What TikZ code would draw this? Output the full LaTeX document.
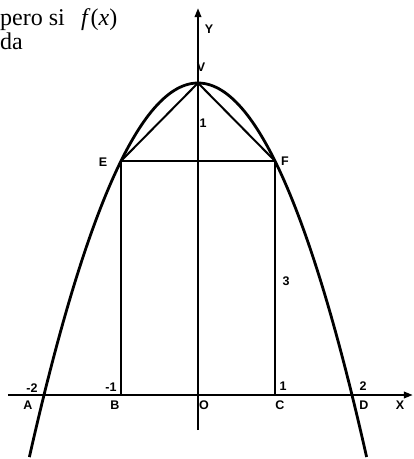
\documentclass[tikz,border=0pt]{standalone}
\usepackage{fontspec}
\setmainfont{Liberation Serif}
\setsansfont{Liberation Sans}
\usetikzlibrary{arrows.meta}
\tikzset{
  curve/.style={line width=2.8pt},
  axis/.style={line width=2pt,-{Triangle[length=9pt,width=6.5pt]}},
  seg/.style={line width=2pt},
  lab/.style={font=\sffamily\bfseries\fontsize{12.5}{14}\selectfont, inner sep=0pt},
  txt/.style={font=\fontsize{24}{28}\selectfont, inner sep=0pt, anchor=base west}
}
\begin{document}
\begin{tikzpicture}[x=1pt,y=-1pt]
\useasboundingbox (0,0) rectangle (414,459);
\fill[white] (0,0) rectangle (414,459);
% text fragments
\node[txt] (t1) at (0,25) {pero si};
\node[txt] (t2) at (81,25) {\textit{f}(\textit{x})};
\node[txt] (t3) at (0,49) {da};
\begin{scope}[shift={(198,395)}, x=77pt, y=78pt]
  \coordinate (O) at (0,0);
  \coordinate (A) at (-2,0);
  \coordinate (B) at (-1,0);
  \coordinate (C) at (1,0);
  \coordinate (D) at (2,0);
  \coordinate (E) at (-1,3);
  \coordinate (F) at (1,3);
  \coordinate (V) at (0,4);
  \coordinate (xs) at (-2.47,0);
  \coordinate (xe) at (2.79,0);
  \coordinate (ys) at (0,-0.45);
  \coordinate (ye) at (0,4.96);
  \draw[axis] (xs) -- (xe);
  \draw[axis] (ys) -- (ye);
  \draw[curve] plot[domain=-2.19:2.19, samples=120, smooth] (\x,{4-\x*\x});
  \draw[seg] (E) -- (F);
  \draw[seg] (V) -- (E);
  \draw[seg] (V) -- (F);
  \draw[seg] (E) -- (B);
  \draw[seg] (F) -- (C);
\end{scope}
% labels
\node[lab] (lY) at (209,29) {Y};
\node[lab] (lV) at (201,67) {V};
\node[lab] (l1a) at (203,123) {1};
\node[lab] (lE) at (103,162) {E};
\node[lab] (lF) at (285,161) {F};
\node[lab] (l3) at (286,281) {3};
\node[lab] (lm2) at (32,388) {-2};
\node[lab] (lA) at (28,405) {A};
\node[lab] (lm1) at (111,387) {-1};
\node[lab] (lB) at (115,405) {B};
\node[lab] (lO) at (204,405) {O};
\node[lab] (l1b) at (283,386) {1};
\node[lab] (lC) at (280,405) {C};
\node[lab] (l2) at (363,386) {2};
\node[lab] (lD) at (364,405) {D};
\node[lab] (lX) at (400,405) {X};
\end{tikzpicture}
\end{document}
